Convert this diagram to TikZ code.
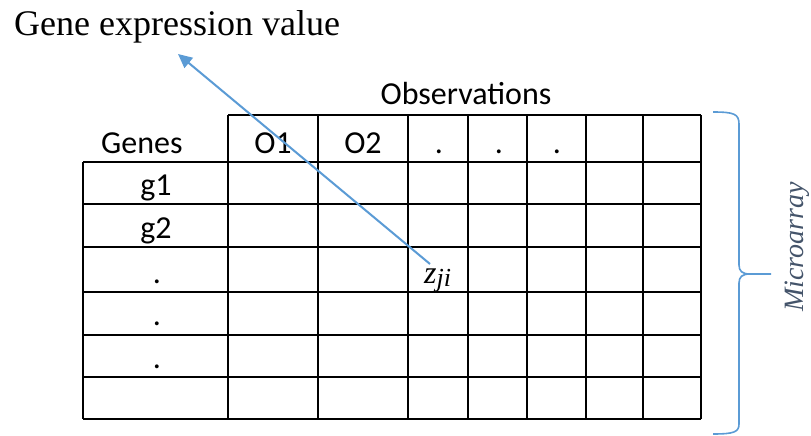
\documentclass[tikz,border=0pt]{standalone}
\usepackage{fontspec}
\setmainfont{Liberation Serif}
\newfontfamily\calib{Carlito}
\usetikzlibrary{arrows.meta}
\definecolor{obl}{HTML}{5B9BD5}
\definecolor{slate}{HTML}{44546A}
\begin{document}
\begin{tikzpicture}[x=1pt,y=-1pt,
  grid/.style={line width=1.6pt,black},
  lbl/.style={font=\calib\fontsize{32}{34}\selectfont,inner sep=0pt,anchor=base},
  dotlbl/.style={font=\calib\fontsize{32}{34}\selectfont,inner sep=0pt,anchor=base},
  conn/.style={obl,line width=2pt,-{Triangle[length=14pt,width=13pt]}},
  bracestyle/.style={obl,line width=1.6pt}]
\useasboundingbox (0,0) rectangle (811,436);
% title
\node[anchor=base west,inner sep=0pt,font=\fontsize{36}{40}\selectfont] (title) at (14,36) {Gene expression value};
\node[lbl,anchor=base] (obs) at (466,104) {Observations};
% grid
\draw[grid] (228,115) -- (701,115);
\draw[grid] (83,162) -- (701,162);
\foreach \y in {204,247,292,335,377,419} \draw[grid] (83,\y) -- (701,\y);
\draw[grid] (83,162) -- (83,419);
\foreach \x in {228,318,408,468,527,586,643,701} \draw[grid] (\x,115) -- (\x,419);
% header labels
\node[lbl,anchor=base west] (genes) at (101,153) {Genes};
\node[lbl] (o1) at (273,153) {O1};
\node[lbl] (o2) at (363,153) {O2};
\node[dotlbl] (d1) at (439,153) {.};
\node[dotlbl] (d2) at (499,153) {.};
\node[dotlbl] (d3) at (557,153) {.};
% row labels
\node[lbl] (g1) at (156,195) {g1};
\node[lbl] (g2) at (156,238) {g2};
\node[dotlbl] (r1) at (157,283) {.};
\node[dotlbl] (r2) at (157,325) {.};
\node[dotlbl] (r3) at (157,368) {.};
% z_ji
\node[inner sep=0pt,anchor=base west,font=\itshape\fontsize{32}{34}\selectfont] (z) at (424,283) {z\raisebox{-3pt}{\fontsize{26}{28}\selectfont ji}};
\coordinate (zs) at (430,264);
\coordinate (tip) at (178,54);
\draw[conn] (zs) -- (tip);
% brace
\draw[bracestyle] (713,112) .. controls (734,112) and (739,114) .. (739,124) -- (739,265)
  .. controls (739,271) and (742,274) .. (750,274) -- (771,274);
\draw[bracestyle] (750,274) .. controls (742,274) and (739,277) .. (739,283) -- (739,424)
  .. controls (739,432) and (734,434) .. (713,434);
\node[rotate=90,inner sep=0pt,text=slate,font=\itshape\fontsize{28}{30}\selectfont] (micro) at (797,247) {Microarray};
\end{tikzpicture}
\end{document}
